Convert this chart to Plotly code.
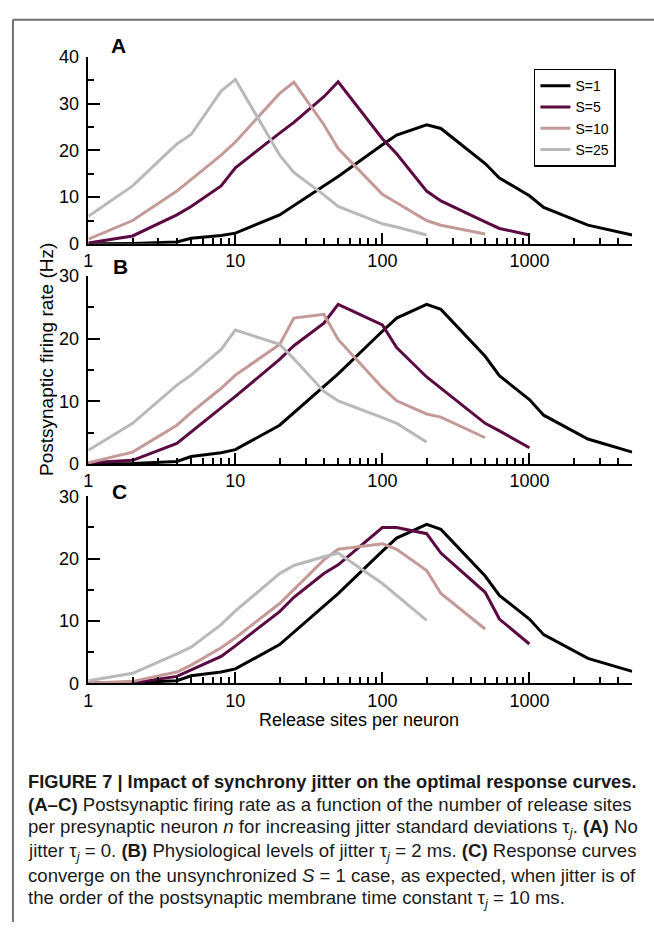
import plotly.graph_objects as go

# ---------------- data ----------------
N1 = [1, 2, 4, 5, 8, 10, 20, 25, 40, 50, 100, 125, 200, 250, 500, 625, 1000, 1250, 2500, 5000]
S1 = [0.0, 0.1, 0.4, 1.2, 1.8, 2.3, 6.2, 8.2, 12.3, 14.4, 21.2, 23.3, 25.5, 24.7, 17.2, 14.1, 10.3, 7.8, 4.0, 1.9]

N5 = [1, 2, 4, 5, 8, 10, 20, 25, 40, 50, 100, 125, 200, 250, 500, 625, 1000]
A5 = [0.2, 1.7, 6.2, 8.0, 12.4, 16.3, 23.7, 26.0, 31.5, 34.7, 22.5, 19.3, 11.3, 9.2, 4.7, 3.3, 1.9]
B5 = [0.2, 0.6, 3.3, 5.1, 9.0, 10.8, 16.7, 18.9, 22.5, 25.5, 22.2, 18.6, 13.9, 12.1, 6.5, 5.3, 2.6]
C5 = [0.0, 0.05, 1.1, 2.1, 4.3, 6.0, 11.5, 13.8, 17.6, 19.0, 25.0, 25.0, 24.0, 20.9, 14.6, 10.3, 6.3]

N10 = [1, 2, 4, 5, 8, 10, 20, 25, 40, 50, 100, 125, 200, 250, 500]
A10 = [1.0, 5.0, 11.3, 13.8, 19.0, 21.8, 32.2, 34.6, 25.5, 20.4, 10.6, 8.8, 5.0, 4.0, 2.1]
B10 = [0.2, 1.9, 6.2, 8.2, 12.1, 14.2, 19.1, 23.3, 23.9, 19.9, 12.2, 10.1, 8.0, 7.5, 4.2]
C10 = [0.0, 0.3, 1.8, 2.9, 5.7, 7.3, 12.8, 15.1, 19.8, 21.5, 22.4, 21.5, 18.1, 14.4, 8.7]

N25 = [1, 2, 4, 5, 8, 10, 20, 25, 40, 50, 100, 125, 200]
A25 = [5.9, 12.4, 21.4, 23.4, 32.7, 35.2, 19.0, 15.3, 10.5, 8.0, 4.3, 3.6, 1.9]
B25 = [2.2, 6.5, 12.6, 14.2, 18.3, 21.4, 19.1, 16.8, 11.6, 10.1, 7.4, 6.5, 3.5]
C25 = [0.4, 1.6, 4.7, 5.8, 9.4, 11.6, 17.6, 18.9, 20.3, 20.9, 16.0, 14.1, 10.1]

SERIES_NAMES = ["S=1", "S=5", "S=10", "S=25"]
COLORS = ["#000000", "#5a0a40", "#c49a98", "#b9b9b9"]
PANEL_LABELS = ["A", "B", "C"]
PANEL_YMAX = [40, 30, 30]
XTICKS = [1, 10, 100, 1000]
XTICKTEXT = ["1", "10", "100", "1000"]
XMINOR = [2, 3, 4, 5, 6, 7, 8, 9, 20, 30, 40, 50, 60, 70, 80, 90,
          200, 300, 400, 500, 600, 700, 800, 900, 2000, 3000, 4000, 5000]

panels = [
    [(N1, S1), (N5, A5), (N10, A10), (N25, A25)],
    [(N1, S1), (N5, B5), (N10, B10), (N25, B25)],
    [(N1, S1), (N5, C5), (N10, C10), (N25, C25)],
]

W, H = 654, 932
FONT = "Liberation Sans, Arial, Helvetica, sans-serif"

def px_x(p):
    return p / W

def px_y(p):
    return 1 - p / H

# plot area pixel boxes (top, bottom)
x_left, x_right = 84, 632
boxes = [(48, 239), (272, 464), (497, 688)]

fig = go.Figure()

for i, series in enumerate(panels):
    ax = "" if i == 0 else str(i + 1)
    for j, (nx, ny) in enumerate(series):
        fig.add_trace(go.Scatter(
            x=nx, y=ny, mode="lines", name=SERIES_NAMES[j],
            line=dict(color=COLORS[j], width=3),
            xaxis="x" + ax, yaxis="y" + ax,
            showlegend=(i == 0),
        ))
    top, bot = boxes[i]
    xa = dict(
        type="log", range=[0, 3.69897], domain=[px_x(x_left), px_x(x_right)],
        anchor="y" + ax, tickmode="array", tickvals=XTICKS, ticktext=XTICKTEXT,
        ticks="inside", ticklen=11, tickwidth=1.5, tickcolor="black",
        showline=True, linecolor="black", linewidth=1.5,
        showgrid=False, zeroline=False,
        tickfont=dict(family=FONT, size=18, color="black"),
        minor=dict(tickmode="array", tickvals=XMINOR, ticks="inside", ticklen=6,
                   tickwidth=1.5, tickcolor="black", showgrid=False),
    )
    ya = dict(
        range=[0, PANEL_YMAX[i]], domain=[px_y(bot), px_y(top)],
        anchor="x" + ax, tickmode="linear", tick0=0, dtick=10,
        ticks="inside", ticklen=12, tickwidth=1.5, tickcolor="black",
        showline=True, linecolor="black", linewidth=1.5,
        showgrid=False, zeroline=False, ticklabelstandoff=4,
        tickfont=dict(family=FONT, size=18, color="black"),
        minor=dict(dtick=5, ticks="inside", ticklen=6, tickwidth=1.5,
                   tickcolor="black", showgrid=False),
    )
    fig.update_layout(**{"xaxis" + ax: xa, "yaxis" + ax: ya})

annotations = []
label_pos = [(105, 36), (107, 262), (106, 492)]
for (lx, ly), lab in zip(label_pos, PANEL_LABELS):
    annotations.append(dict(
        x=px_x(lx), y=px_y(ly), xref="paper", yref="paper", xanchor="left",
        yanchor="middle", text="<b>%s</b>" % lab, showarrow=False,
        font=dict(family=FONT, size=21, color="black")))

annotations.append(dict(
    x=px_x(42), y=px_y(357), xref="paper", yref="paper", text="Postsynaptic firing rate (Hz)",
    textangle=-90, showarrow=False, xanchor="center", yanchor="middle",
    font=dict(family=FONT, size=19, color="black")))
annotations.append(dict(
    x=px_x(357), y=px_y(726), xref="paper", yref="paper", text="Release sites per neuron",
    showarrow=False, xanchor="center", yanchor="middle",
    font=dict(family=FONT, size=18, color="black")))

caption = [
    "<b>FIGURE 7 | Impact of synchrony jitter on the optimal response curves.</b>",
    "<b>(A–C)</b> Postsynaptic firing rate as a function of the number of release sites",
    "per presynaptic neuron <i>n</i> for increasing jitter standard deviations τ<sub><i>j</i></sub>. <b>(A)</b> No",
    "jitter τ<sub><i>j</i></sub> = 0. <b>(B)</b> Physiological levels of jitter τ<sub><i>j</i></sub> = 2 ms. <b>(C)</b> Response curves",
    "converge on the unsynchronized <i>S</i> = 1 case, as expected, when jitter is of",
    "the order of the postsynaptic membrane time constant τ<sub><i>j</i></sub> = 10 ms.",
]
cap_size = [18.3, 18.6, 18.6, 18.6, 18.6, 18.6]
cap_y = [788, 812, 836, 860, 884, 908]
for t, cy, cs in zip(caption, cap_y, cap_size):
    annotations.append(dict(
        x=px_x(21), y=px_y(cy), xref="paper", yref="paper", text=t,
        showarrow=False, xanchor="left", yanchor="middle",
        font=dict(family=FONT, size=cs, color="#1a1a1a")))

shapes = [
    dict(type="line", xref="paper", yref="paper", x0=px_x(8), x1=px_x(8),
         y0=0, y1=px_y(10), line=dict(color="#707070", width=2)),
    dict(type="line", xref="paper", yref="paper", x0=px_x(8), x1=1,
         y0=px_y(10), y1=px_y(10), line=dict(color="#707070", width=2)),
]

fig.update_layout(
    width=W, height=H, margin=dict(l=0, r=0, t=0, b=0),
    paper_bgcolor="white", plot_bgcolor="white",
    annotations=annotations, shapes=shapes,
    legend=dict(x=px_x(533), y=px_y(60), xanchor="left", yanchor="top",
                bordercolor="black", borderwidth=1.5, bgcolor="white",
                font=dict(family=FONT, size=14, color="black"),
                tracegroupgap=0, itemwidth=30),
)

fig.write_html("out.html")
